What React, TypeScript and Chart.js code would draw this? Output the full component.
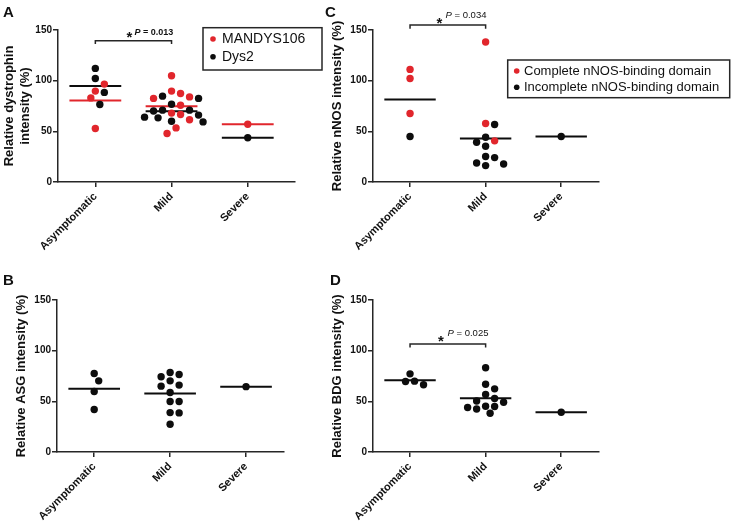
import React, { useEffect, useRef } from 'react';
import { Chart, registerables } from 'chart.js';

Chart.register(...registerables);

const FONT = "'Liberation Sans', Arial, Helvetica, sans-serif";
const RED = '#e1262c';
const BLACK = '#0d0d0d';
const AXIS = '#262626';
const TEXT = '#111111';

// ---------------- data ----------------
const categories = ['Asymptomatic', 'Mild', 'Severe'];
const yTicks = [0, 50, 100, 150];

// Panel A – relative dystrophin intensity (%)
const dystrophinMandysAsymptomatic = [96.6, 89.7, 83.0, 52.8];
const dystrophinMandysMild = [104.8, 89.7, 87.4, 84.0, 82.5, 75.8, 68.0, 66.6, 61.5, 53.4, 47.8];
const dystrophinMandysSevere = [57.0];
const dystrophinDys2Asymptomatic = [112.1, 102.2, 88.4, 76.5];
const dystrophinDys2Mild = [84.7, 82.5, 76.8, 70.9, 70.9, 70.0, 66.0, 64.0, 63.3, 60.0, 59.3];
const dystrophinDys2Severe = [43.6];

// Panel C – relative nNOS intensity (%)
const nnosCompleteAsymptomatic = [111.1, 102.2, 67.6];
const nnosCompleteMild = [138.1, 57.7, 40.6];
const nnosCompleteSevere: number[] = [];
const nnosIncompleteAsymptomatic = [44.9];
const nnosIncompleteMild = [56.8, 44.2, 39.3, 35.3, 25.1, 24.1, 18.8, 17.8, 16.2];
const nnosIncompleteSevere = [44.9];

// Panel B – relative ASG intensity (%)
const asgAsymptomatic = [77.5, 70.2, 59.7, 41.9];
const asgMild = [78.5, 76.5, 74.2, 70.2, 66.0, 65.0, 58.7, 49.8, 49.8, 38.9, 38.6, 27.4];
const asgSevere = [64.5];

// Panel D – relative BDG intensity (%)
const bdgAsymptomatic = [77.1, 69.9, 69.6, 66.3];
const bdgMild = [83.1, 66.9, 62.3, 56.7, 52.8, 50.4, 49.1, 45.2, 44.9, 43.9, 42.5, 38.3];
const bdgSevere = [39.3];

const pValueA = '0.013';
const pValueC = '0.034';
const pValueD = '0.025';

// ---------------- helpers ----------------
const mean = (a: number[]) => a.reduce((s, v) => s + v, 0) / a.length;

// simple beeswarm: offsets (in category units) so that dots do not overlap
function swarm(values: number[], pxPerCat: number, pxPerUnit: number, d: number, step: number): number[] {
  const order = values.map((_, i) => i).sort((a, b) => values[b] - values[a]);
  const placed: { x: number; y: number }[] = [];
  const out = new Array(values.length).fill(0);
  for (const i of order) {
    const y = values[i] * pxPerUnit;
    for (let k = 0; k < 60; k++) {
      const dx = Math.ceil(k / 2) * (k % 2 === 1 ? 1 : -1) * step;
      const ok = placed.every((p) => Math.hypot(p.x - dx, p.y - y) >= d - 0.01);
      if (ok) {
        placed.push({ x: dx, y });
        out[i] = dx / pxPerCat;
        break;
      }
    }
  }
  return out;
}

const decorPlugin = {
  id: 'decor',
  afterDraw(chart: any, _args: any, opts: any) {
    const ctx = chart.ctx;
    const xs = chart.scales.x;
    const ys = chart.scales.y;
    ctx.save();
    if (opts.letter) {
      const l = opts.letter;
      ctx.font = `bold ${l.size}px ${FONT}`;
      ctx.fillStyle = TEXT;
      ctx.textAlign = 'left';
      ctx.textBaseline = 'alphabetic';
      ctx.fillText(l.text, l.x, l.y);
    }
    const b = opts.bracket;
    if (b) {
      const x1 = xs.getPixelForValue(b.from);
      const x2 = xs.getPixelForValue(b.to);
      const y = ys.getPixelForValue(b.y);
      const yEnd = ys.getPixelForValue(b.yEnd);
      ctx.strokeStyle = AXIS;
      ctx.lineWidth = 1.5;
      ctx.beginPath();
      ctx.moveTo(x1, yEnd);
      ctx.lineTo(x1, y);
      ctx.lineTo(x2, y);
      ctx.lineTo(x2, yEnd);
      ctx.stroke();
      const mid = (x1 + x2) / 2;
      ctx.fillStyle = TEXT;
      ctx.font = `bold ${b.starSize}px ${FONT}`;
      ctx.textAlign = 'center';
      ctx.textBaseline = 'alphabetic';
      ctx.fillText('*', mid + b.starDx, y + b.starDy + 0.56 * b.starSize);
      const w = b.bold ? 'bold ' : '';
      ctx.textAlign = 'left';
      ctx.textBaseline = 'middle';
      let tx = mid + b.textDx;
      const ty = y + b.textDy;
      ctx.font = `italic ${w}${b.textSize}px ${FONT}`;
      ctx.fillText('P', tx, ty);
      tx += ctx.measureText('P').width;
      ctx.font = `${w}${b.textSize}px ${FONT}`;
      ctx.fillText(' = ' + b.value, tx, ty);
    }
    const L = opts.legend;
    if (L) {
      const items = chart.data.datasets.filter((d: any) => d.legendLabel);
      ctx.lineWidth = 1.5;
      ctx.strokeStyle = AXIS;
      ctx.strokeRect(L.x, L.y, L.width, L.height);
      ctx.font = `${L.fontSize}px ${FONT}`;
      ctx.textBaseline = 'middle';
      ctx.textAlign = 'left';
      items.forEach((d: any, i: number) => {
        const cy = L.y + L.firstRow + i * L.rowGap;
        ctx.fillStyle = d.backgroundColor;
        ctx.beginPath();
        ctx.arc(L.x + L.dotDx, cy, L.dotR, 0, Math.PI * 2);
        ctx.fill();
        ctx.fillStyle = TEXT;
        ctx.fillText(d.legendLabel, L.x + L.textDx, cy + 0.5);
      });
    }
    ctx.restore();
  },
};

type Series = { label?: string; color: string; groups: number[][] };

type PanelSpec = {
  key: string;
  canvas: { left: number; top: number; width: number; height: number };
  area: { left: number; top: number; right: number; bottom: number };
  xMin: number;
  xMax: number;
  title: string | string[];
  titlePad: number;
  series: Series[];
  meanPerSeries: boolean;
  letter: any;
  bracket?: any;
  legend?: any;
};

const panels: PanelSpec[] = [
  {
    key: 'A',
    canvas: { left: 0, top: 0, width: 330, height: 265 },
    area: { left: 58, top: 30, right: 295, bottom: 182 },
    xMin: -0.49,
    xMax: 2.62,
    title: ['Relative dystrophin', 'intensity (%)'],
    titlePad: 2,
    series: [
      { label: 'MANDYS106', color: RED, groups: [dystrophinMandysAsymptomatic, dystrophinMandysMild, dystrophinMandysSevere] },
      { label: 'Dys2', color: BLACK, groups: [dystrophinDys2Asymptomatic, dystrophinDys2Mild, dystrophinDys2Severe] },
    ],
    meanPerSeries: true,
    letter: { text: 'A', x: 3, y: 17, size: 15 },
    bracket: { from: 0, to: 1, y: 139.4, yEnd: 136.2, starSize: 15, starDx: -4, starDy: -7.4, textDx: 1, textDy: -8.4, textSize: 9, bold: true, value: pValueA },
    legend: { x: 203, y: 27.7, width: 119, height: 42.3, fontSize: 14, dotDx: 10, dotR: 2.8, textDx: 19, firstRow: 11.3, rowGap: 17.7 },
  },
  {
    key: 'C',
    canvas: { left: 322, top: 0, width: 411, height: 265 },
    area: { left: 373, top: 30, right: 599, bottom: 182 },
    xMin: -0.49,
    xMax: 2.5,
    title: 'Relative nNOS intensity (%)',
    titlePad: 8,
    series: [
      { label: 'Complete nNOS-binding domain', color: RED, groups: [nnosCompleteAsymptomatic, nnosCompleteMild, nnosCompleteSevere] },
      { label: 'Incomplete nNOS-binding domain', color: BLACK, groups: [nnosIncompleteAsymptomatic, nnosIncompleteMild, nnosIncompleteSevere] },
    ],
    meanPerSeries: false,
    letter: { text: 'C', x: 3, y: 17, size: 15 },
    bracket: { from: 0, to: 1, y: 155, yEnd: 151.2, starSize: 15, starDx: -8.3, starDy: -5, textDx: -2.3, textDy: -10, textSize: 9.5, bold: false, value: pValueC },
    legend: { x: 185.7, y: 60, width: 222, height: 37.7, fontSize: 13, dotDx: 9, dotR: 2.8, textDx: 16.3, firstRow: 11, rowGap: 16.3 },
  },
  {
    key: 'B',
    canvas: { left: 0, top: 265, width: 330, height: 260 },
    area: { left: 57, top: 300, right: 284, bottom: 452 },
    xMin: -0.49,
    xMax: 2.5,
    title: 'Relative ASG intensity (%)',
    titlePad: 14,
    series: [{ color: BLACK, groups: [asgAsymptomatic, asgMild, asgSevere] }],
    meanPerSeries: false,
    letter: { text: 'B', x: 3, y: 20, size: 15 },
  },
  {
    key: 'D',
    canvas: { left: 322, top: 265, width: 411, height: 260 },
    area: { left: 373, top: 300, right: 599, bottom: 452 },
    xMin: -0.49,
    xMax: 2.5,
    title: 'Relative BDG intensity (%)',
    titlePad: 8,
    series: [{ color: BLACK, groups: [bdgAsymptomatic, bdgMild, bdgSevere] }],
    meanPerSeries: false,
    letter: { text: 'D', x: 8, y: 20, size: 15 },
    bracket: { from: 0, to: 1, y: 106.5, yEnd: 103.2, starSize: 15, starDx: -7, starDy: -6, textDx: -0.3, textDy: -10.7, textSize: 9.5, bold: false, value: pValueD },
  },
];

const HALF_LINE = 0.34;
const DOT_R = 3.7;
const DOT_MIN_DIST = 8;
const DOT_STEP = 4.5;

function buildDatasets(spec: PanelSpec) {
  const plotW = spec.area.right - spec.area.left;
  const plotH = spec.area.bottom - spec.area.top;
  const pxPerCat = plotW / (spec.xMax - spec.xMin);
  const pxPerUnit = plotH / (yTicks[yTicks.length - 1] - yTicks[0]);
  const pointData: { x: number; y: number }[][] = spec.series.map(() => []);
  categories.forEach((_, g) => {
    const all: { s: number; v: number }[] = [];
    spec.series.forEach((s, si) => s.groups[g].forEach((v) => all.push({ s: si, v })));
    const offs = swarm(all.map((a) => a.v), pxPerCat, pxPerUnit, DOT_MIN_DIST, DOT_STEP);
    all.forEach((a, k) => pointData[a.s].push({ x: g + offs[k], y: a.v }));
  });
  const datasets: any[] = [];
  spec.series.forEach((s, si) => {
    datasets.push({
      legendLabel: s.label,
      data: pointData[si],
      backgroundColor: s.color,
      borderWidth: 0,
      pointRadius: DOT_R,
      pointHoverRadius: DOT_R,
      order: 1,
      clip: false,
    });
  });
  const meanLine = (g: number, m: number, color: string) => ({
    data: [
      { x: g - HALF_LINE, y: m },
      { x: g + HALF_LINE, y: m },
    ],
    showLine: true,
    borderColor: color,
    backgroundColor: color,
    borderWidth: 2,
    pointRadius: 0,
    order: 5,
    clip: false,
  });
  if (spec.meanPerSeries) {
    spec.series.forEach((s) => {
      s.groups.forEach((vals, g) => {
        if (vals.length) datasets.push(meanLine(g, mean(vals), s.color));
      });
    });
  } else {
    categories.forEach((_, g) => {
      const vals = spec.series.flatMap((s) => s.groups[g]);
      if (vals.length) datasets.push(meanLine(g, mean(vals), BLACK));
    });
  }
  return datasets;
}

function Panel({ spec }: { spec: PanelSpec }) {
  const ref = useRef<HTMLCanvasElement | null>(null);
  useEffect(() => {
    if (!ref.current) return;
    const { canvas, area } = spec;
    const chart = new Chart(ref.current, {
      type: 'scatter',
      data: { datasets: buildDatasets(spec) },
      plugins: [decorPlugin as any],
      options: {
        animation: false,
        responsive: false,
        events: [],
        layout: {
          padding: {
            left: 0,
            top: area.top - canvas.top,
            right: canvas.left + canvas.width - area.right,
            bottom: 0,
          },
        },
        plugins: {
          legend: { display: false },
          tooltip: { enabled: false },
          decor: { letter: spec.letter, bracket: spec.bracket, legend: spec.legend },
        } as any,
        scales: {
          x: {
            type: 'linear',
            min: spec.xMin,
            max: spec.xMax,
            afterBuildTicks: (s: any) => {
              s.ticks = categories.map((_, i) => ({ value: i }));
            },
            afterFit: (s: any) => {
              s.height = canvas.top + canvas.height - area.bottom;
            },
            ticks: {
              autoSkip: false,
              minRotation: 45,
              maxRotation: 45,
              padding: 3,
              color: TEXT,
              font: { family: FONT, size: 11, weight: 'bold' },
              callback: (v: any) => categories[Math.round(Number(v))],
            },
            grid: { drawOnChartArea: false, drawTicks: true, tickLength: 5, color: AXIS, lineWidth: 1.5 },
            border: { display: true, color: AXIS, width: 1.5 },
          },
          y: {
            type: 'linear',
            min: yTicks[0],
            max: yTicks[yTicks.length - 1],
            afterBuildTicks: (s: any) => {
              s.ticks = yTicks.map((v) => ({ value: v }));
            },
            afterFit: (s: any) => {
              s.width = area.left - canvas.left;
            },
            ticks: {
              padding: 1,
              color: TEXT,
              font: { family: FONT, size: 10, weight: 'bold' },
            },
            grid: { drawOnChartArea: false, drawTicks: true, tickLength: 5, color: AXIS, lineWidth: 1.5 },
            border: { display: true, color: AXIS, width: 1.5 },
            title: {
              display: true,
              text: spec.title,
              color: TEXT,
              font: { family: FONT, size: 13, weight: 'bold', lineHeight: 1.2 },
              padding: { top: spec.titlePad, bottom: 0 },
            },
          },
        },
      } as any,
    });
    return () => chart.destroy();
  }, [spec]);
  const { canvas } = spec;
  return (
    <canvas
      ref={ref}
      width={canvas.width}
      height={canvas.height}
      style={{ position: 'absolute', left: canvas.left, top: canvas.top, width: canvas.width, height: canvas.height }}
    />
  );
}

export default function App() {
  return (
    <div style={{ position: 'fixed', left: 0, top: 0, width: 733, height: 525, background: '#ffffff', overflow: 'hidden' }}>
      {panels.map((p) => (
        <Panel key={p.key} spec={p} />
      ))}
    </div>
  );
}
